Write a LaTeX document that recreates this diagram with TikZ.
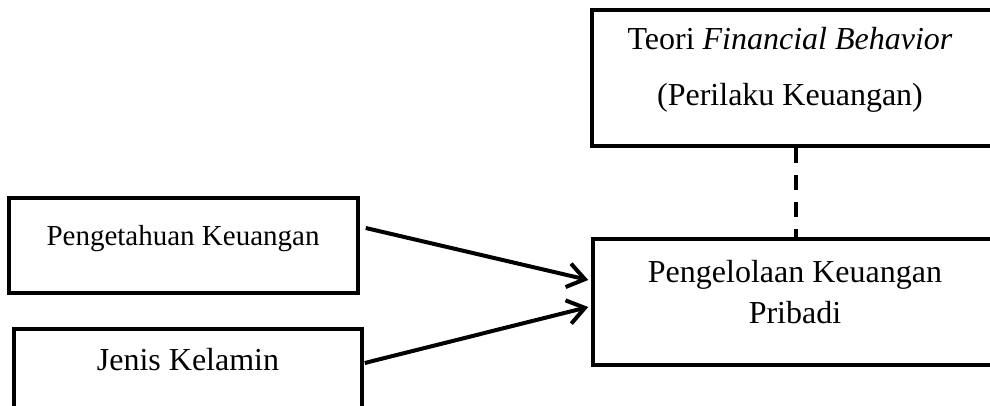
\documentclass[tikz,border=0pt]{standalone}
\usepackage{fontspec}
\setmainfont{Liberation Serif}
\usetikzlibrary{arrows.meta,calc}
\begin{document}
\begin{tikzpicture}[x=1pt,y=-1pt,
  box/.style={draw, line width=3.5pt, inner sep=0pt},
  lbl/.style={anchor=base, inner sep=0pt, font=\fontsize{32}{41}\selectfont},
  smalllbl/.style={anchor=base, inner sep=0pt, font=\fontsize{29}{36}\selectfont},
  conn/.style={line width=4pt, -{Straight Barb[length=17pt,width=24pt,line width=4pt]}},
  dashconn/.style={line width=4pt, dash pattern=on 15pt off 12pt}]
\useasboundingbox[fill=white] (0,0) rectangle (990,406);
% boxes
\node[box, minimum width=402pt, minimum height=136pt] (top) at (793,78) {};
\node[box, minimum width=405pt, minimum height=126pt] (main) at (795.5,302) {};
\node[box, minimum width=349pt, minimum height=95pt] (b1) at (183.5,245.5) {};
\node[box, minimum width=348pt, minimum height=83pt] (b2) at (188,370.5) {};
% texts
\node[lbl] (t1) at (790,50) {Teori \textit{Financial Behavior}};
\node[lbl] (t2) at (790,106) {(Perilaku Keuangan)};
\node[lbl] (m1) at (795,282) {Pengelolaan Keuangan};
\node[lbl] (m2) at (795,323) {Pribadi};
\node[smalllbl] (p1) at (183,245) {Pengetahuan Keuangan};
\node[lbl] (j1) at (188,370) {Jenis Kelamin};
% connectors
\coordinate (s1) at ($(b1.east)+(6,-17.5)$);
\coordinate (s2) at ($(b2.east)+(1,-7.5)$);
\coordinate (e1) at ($(main.west)+(-3,-22)$);
\coordinate (e2) at ($(main.west)+(-3,5)$);
\draw[conn] (s1) -- (e1);
\draw[conn] (s2) -- (e2);
\draw[dashconn] (top.south -| 796,0) -- (main.north -| 796,0);
\end{tikzpicture}
\end{document}
